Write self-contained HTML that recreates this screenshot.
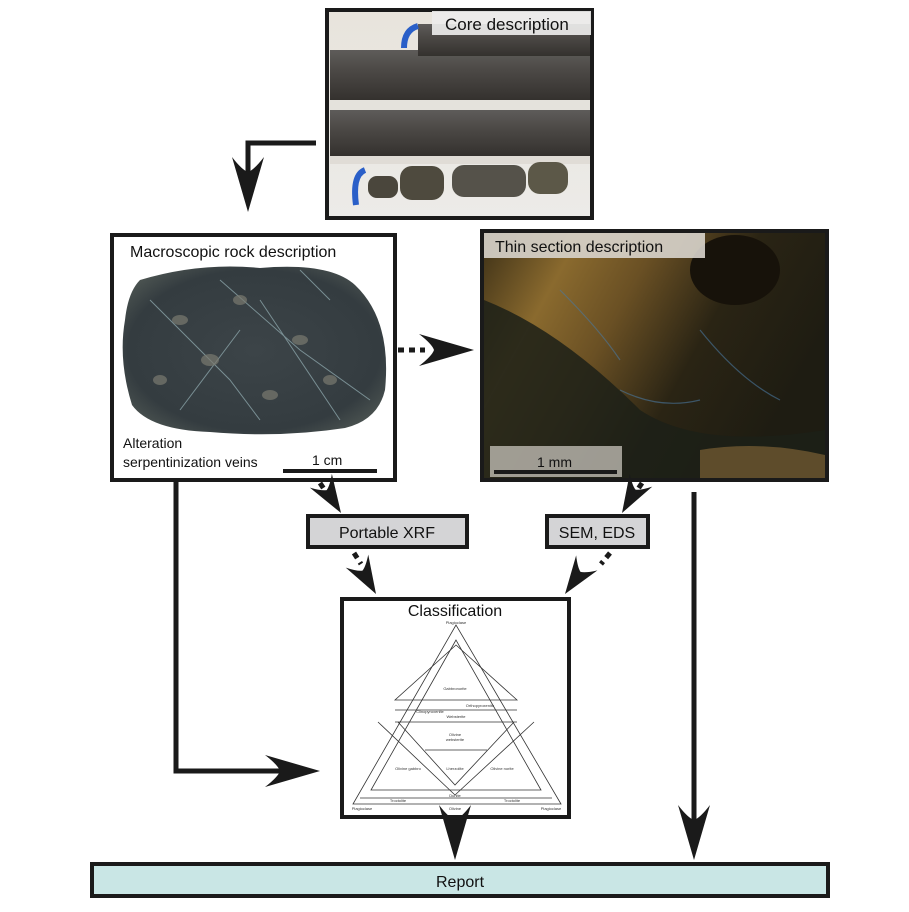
<!DOCTYPE html>
<html><head><meta charset="utf-8"><style>
html,body{margin:0;padding:0;background:#fff;}
svg{display:block;}
text{font-family:"Liberation Sans",sans-serif;}
</style></head><body>
<svg width="909" height="912" viewBox="0 0 909 912" xmlns="http://www.w3.org/2000/svg">
<defs>
<path id="ah" d="M0,0 L-55,-16 Q-42,-6 -40,0 Q-42,6 -55,16 Z" fill="#1a1a1a"/>
<path id="ahs" d="M0,0 L-38,-13 Q-29,-5 -27,0 Q-29,5 -38,13 Z" fill="#1a1a1a"/>
<linearGradient id="coreBg" x1="0" y1="0" x2="0" y2="1">
<stop offset="0" stop-color="#e8e4dc"/><stop offset="1" stop-color="#ecebe8"/></linearGradient>
<linearGradient id="cyl" x1="0" y1="0" x2="0" y2="1">
<stop offset="0" stop-color="#5e5c5a"/><stop offset="0.4" stop-color="#4c4946"/><stop offset="1" stop-color="#34312e"/></linearGradient>
<linearGradient id="thin" x1="0" y1="0" x2="1" y2="0.4">
<stop offset="0" stop-color="#3a2e16"/><stop offset="0.25" stop-color="#8a6a2e"/><stop offset="0.45" stop-color="#6a5024"/><stop offset="0.7" stop-color="#2a2414"/><stop offset="1" stop-color="#1e1c12"/></linearGradient>
<radialGradient id="rock" cx="0.5" cy="0.5" r="0.6">
<stop offset="0" stop-color="#3c4448"/><stop offset="0.8" stop-color="#343c40"/><stop offset="1" stop-color="#4a5250"/></radialGradient>
</defs>

<!-- Core photo -->
<rect x="327" y="10" width="265" height="208" fill="url(#coreBg)" stroke="#1a1a1a" stroke-width="4"/>
<rect x="330" y="50" width="260" height="50" fill="url(#cyl)"/>
<rect x="330" y="110" width="260" height="46" fill="url(#cyl)"/>
<rect x="418" y="24" width="172" height="32" fill="url(#cyl)"/>
<rect x="330" y="100" width="260" height="10" fill="#e4e2dc"/>
<rect x="330" y="156" width="260" height="8" fill="#e0dcd6"/>
<rect x="368" y="176" width="30" height="22" rx="9" fill="#4a463c"/>
<rect x="400" y="166" width="44" height="34" rx="12" fill="#4e4a3e"/>
<rect x="452" y="165" width="74" height="32" rx="12" fill="#55524a"/>
<rect x="528" y="162" width="40" height="32" rx="12" fill="#5c5848"/>
<path d="M365,170 Q352,175 356,205" stroke="#2a5fc8" stroke-width="6" fill="none"/>
<path d="M418,26 Q404,30 404,48" stroke="#2a5fc8" stroke-width="6" fill="none"/>
<rect x="432" y="11" width="159" height="24" fill="#ecebea" opacity="0.92"/>
<text x="445" y="30" font-size="17" fill="#111">Core description</text>

<!-- Macroscopic box -->
<rect x="112" y="235" width="283" height="245" fill="#fff" stroke="#1a1a1a" stroke-width="4"/>
<text x="130" y="257" font-size="16" fill="#111">Macroscopic rock description</text>
<path d="M140,280 Q200,262 260,268 Q330,262 355,285 Q392,320 385,390 Q378,420 345,428 Q280,438 210,432 Q150,430 132,405 Q118,360 125,320 Q128,292 140,280 Z" fill="url(#rock)"/>
<g stroke="#8aa3a8" stroke-width="1" fill="none" opacity="0.8">
<path d="M150,300 L230,380 L260,420"/><path d="M220,280 L300,350 L370,400"/><path d="M300,270 L330,300"/><path d="M180,410 L240,330"/><path d="M260,300 L340,420"/></g>
<g fill="#7a7a70" opacity="0.7">
<ellipse cx="180" cy="320" rx="8" ry="5"/><ellipse cx="240" cy="300" rx="7" ry="5"/><ellipse cx="210" cy="360" rx="9" ry="6"/><ellipse cx="300" cy="340" rx="8" ry="5"/><ellipse cx="330" cy="380" rx="7" ry="5"/><ellipse cx="160" cy="380" rx="7" ry="5"/><ellipse cx="270" cy="395" rx="8" ry="5"/></g>
<text x="123" y="448" font-size="14" fill="#111">Alteration</text>
<text x="123" y="467" font-size="14" fill="#111">serpentinization veins</text>
<text x="312" y="465" font-size="14" fill="#111">1 cm</text>
<rect x="283" y="469" width="94" height="4" fill="#1a1a1a"/>

<!-- Thin section -->
<rect x="482" y="231" width="345" height="249" fill="url(#thin)" stroke="#1a1a1a" stroke-width="4"/>
<ellipse cx="735" cy="270" rx="45" ry="35" fill="#17120a"/>
<path d="M484,300 Q560,330 640,410 Q700,450 825,430 L825,478 L484,478 Z" fill="#1c2018" opacity="0.85"/>
<g stroke="#4a78a0" stroke-width="1.2" opacity="0.6" fill="none"><path d="M560,290 Q600,330 620,360"/><path d="M700,330 Q740,380 780,400"/><path d="M620,390 Q660,410 700,400"/></g>
<path d="M700,450 Q760,440 825,455 L825,478 L700,478 Z" fill="#8a6a3a" opacity="0.6"/>
<rect x="484" y="233" width="221" height="25" fill="#d8d4cc" opacity="0.9"/>
<text x="495" y="252" font-size="16" fill="#111">Thin section description</text>
<rect x="490" y="446" width="132" height="31" fill="#c8c4bc" opacity="0.75"/>
<text x="537" y="467" font-size="14" fill="#111">1 mm</text>
<rect x="494" y="470" width="123" height="4" fill="#1a1a1a"/>

<!-- XRF / SEM -->
<rect x="308" y="516" width="159" height="31" fill="#d4d4d6" stroke="#1a1a1a" stroke-width="4"/>
<text x="387" y="538" font-size="16" text-anchor="middle" fill="#111">Portable XRF</text>
<rect x="547" y="516" width="101" height="31" fill="#d4d4d6" stroke="#1a1a1a" stroke-width="4"/>
<text x="597" y="538" font-size="16" text-anchor="middle" fill="#111">SEM, EDS</text>

<!-- Classification -->
<rect x="342" y="599" width="227" height="218" fill="#fff" stroke="#1a1a1a" stroke-width="4"/>
<text x="455" y="616" font-size="16" text-anchor="middle" fill="#111">Classification</text>
<g stroke="#333" stroke-width="0.8" fill="none">
<path d="M456,625 L353,804 L561,804 Z"/>
<path d="M456,640 L371,790 L541,790 Z"/>
<path d="M456,645 L395,700 L517,700 Z"/>
<line x1="395" y1="710" x2="517" y2="710"/><line x1="395" y1="722" x2="517" y2="722"/>
<line x1="425" y1="750" x2="487" y2="750"/>
<path d="M378,722 L455,795 L534,722"/>
<path d="M398,722 L455,785 L514,722"/>
<line x1="360" y1="798" x2="552" y2="798"/>
</g>
<g font-size="4" fill="#333" text-anchor="middle">
<text x="456" y="624">Plagioclase</text><text x="455" y="690">Gabbronorite</text>
<text x="456" y="718">Websterite</text><text x="455" y="736">Olivine</text><text x="455" y="741">websterite</text>
<text x="455" y="770">Lherzolite</text><text x="408" y="770">Olivine gabbro</text><text x="502" y="770">Olivine norite</text>
<text x="455" y="797">Dunite</text><text x="398" y="802">Troctolite</text><text x="512" y="802">Troctolite</text>
<text x="362" y="810">Plagioclase</text><text x="455" y="810">Olivine</text><text x="551" y="810">Plagioclase</text>
<text x="430" y="713">Clinopyroxenite</text><text x="480" y="707">Orthopyroxenite</text></g>

<!-- Report -->
<rect x="92" y="864" width="736" height="32" fill="#c9e6e5" stroke="#1a1a1a" stroke-width="4"/>
<text x="460" y="887" font-size="16" text-anchor="middle" fill="#111">Report</text>

<!-- Connectors -->
<g stroke="#1a1a1a" stroke-width="5" fill="none">
<path d="M316,143 L248,143 L248,180"/>
<path d="M176,482 L176,771 L290,771"/>
<line x1="694" y1="492" x2="694" y2="830"/>
<line x1="455" y1="819" x2="455" y2="830"/>
</g>
<use href="#ah" transform="translate(248,212) rotate(90)"/>
<use href="#ah" transform="translate(320,771)"/>
<use href="#ah" transform="translate(694,860) rotate(90)"/>
<use href="#ah" transform="translate(455,860) rotate(90)"/>
<g stroke="#1a1a1a" stroke-width="5" stroke-dasharray="6,5" fill="none">
<line x1="398" y1="350" x2="425" y2="350"/>
<line x1="320" y1="483" x2="326" y2="492"/>
<line x1="642" y1="483" x2="636" y2="492"/>
<line x1="354" y1="553" x2="361" y2="564"/>
<line x1="610" y1="553" x2="601" y2="564"/>
</g>
<use href="#ah" transform="translate(474,350)"/>
<use href="#ahs" transform="translate(341,513) rotate(58)"/>
<use href="#ahs" transform="translate(622,513) rotate(120)"/>
<use href="#ahs" transform="translate(376,594) rotate(60)"/>
<use href="#ahs" transform="translate(565,594) rotate(125)"/>
</svg>
</body></html>
